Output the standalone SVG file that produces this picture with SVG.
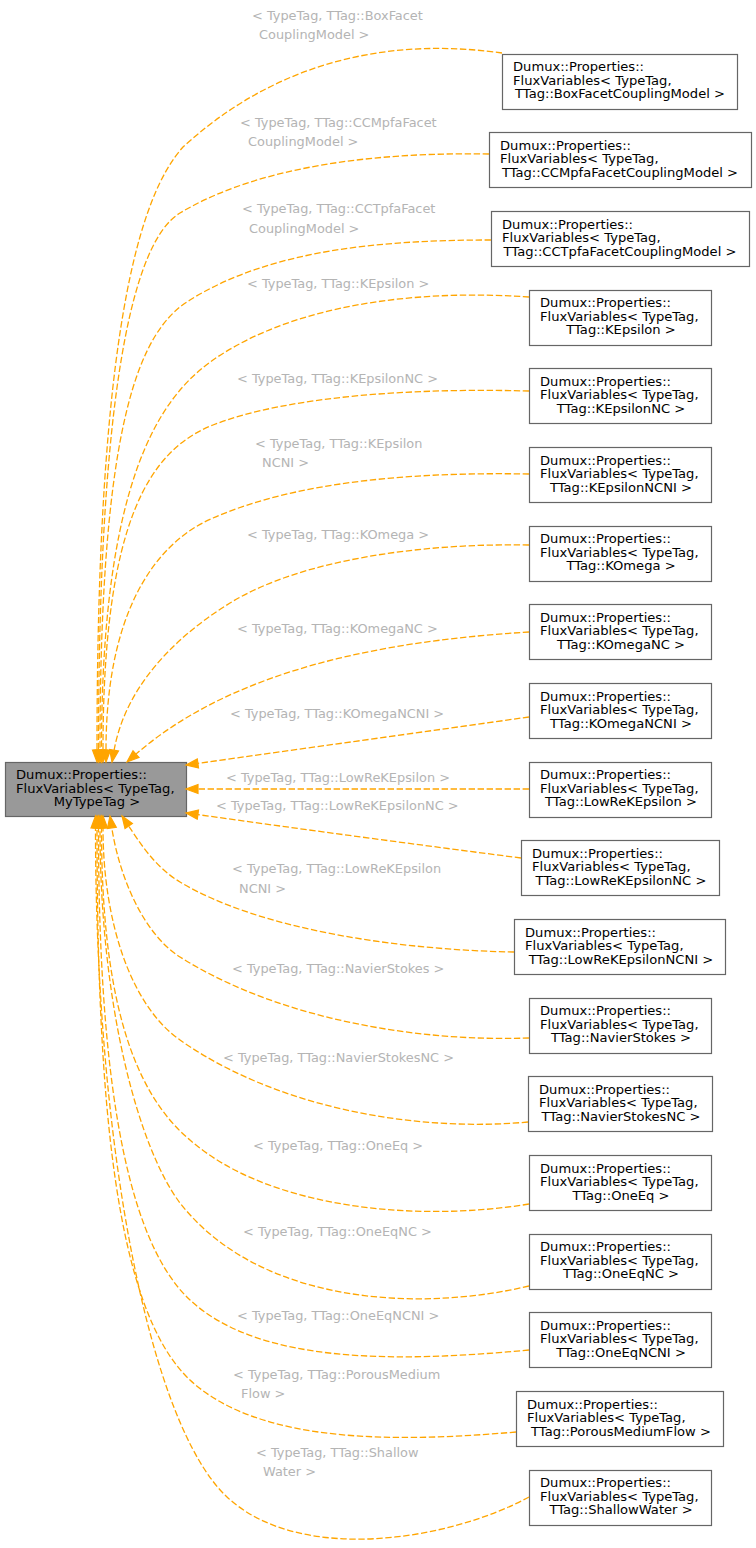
<svg xmlns="http://www.w3.org/2000/svg" width="756" height="1548" viewBox="0 0 756 1548">
<style>
text{font-family:"DejaVu Sans","Noto Sans",sans-serif;font-size:13.1px}
.n rect{fill:#ffffff;stroke:#666666;stroke-width:1.2}
.m rect{fill:#999999;stroke:#666666;stroke-width:1.2}
.n text,.m text{fill:#000000}
.c{text-anchor:middle}
.e path{fill:none;stroke:#ffa500;stroke-width:1.3;stroke-dasharray:6.4,2.6}
.e polygon{fill:#ffa500;stroke:#ffa500;stroke-width:1.2}
.e text{fill:#b4b4b4;font-size:12.9px}
</style>
<rect width="756" height="1548" fill="#ffffff"/>

<g id="node_main" class="m">
<rect x="5.5" y="762.5" width="181" height="54"/>
<text x="16" y="779.3">Dumux::Properties::</text>
<text x="16" y="792.8">FluxVariables&lt; TypeTag,</text>
<text class="c" x="97" y="806.3">MyTypeTag &gt;</text>
</g>

<g id="node_BoxFacetCouplingModel" class="n">
<rect x="502.5" y="54.5" width="235" height="55"/>
<text x="513" y="71.3">Dumux::Properties::</text>
<text x="513" y="84.8">FluxVariables&lt; TypeTag,</text>
<text class="c" x="620" y="98.3">TTag::BoxFacetCouplingModel &gt;</text>
</g>
<g id="node_CCMpfaFacetCouplingModel" class="n">
<rect x="489.5" y="132.5" width="262" height="55"/>
<text x="500" y="149.8">Dumux::Properties::</text>
<text x="500" y="163.3">FluxVariables&lt; TypeTag,</text>
<text class="c" x="620" y="176.8">TTag::CCMpfaFacetCouplingModel &gt;</text>
</g>
<g id="node_CCTpfaFacetCouplingModel" class="n">
<rect x="491.5" y="211.5" width="258" height="55"/>
<text x="502" y="228.8">Dumux::Properties::</text>
<text x="502" y="242.3">FluxVariables&lt; TypeTag,</text>
<text class="c" x="620" y="255.8">TTag::CCTpfaFacetCouplingModel &gt;</text>
</g>
<g id="node_KEpsilon" class="n">
<rect x="529.5" y="290.5" width="182" height="55"/>
<text x="540" y="307.3">Dumux::Properties::</text>
<text x="540" y="320.8">FluxVariables&lt; TypeTag,</text>
<text class="c" x="621" y="334.3">TTag::KEpsilon &gt;</text>
</g>
<g id="node_KEpsilonNC" class="n">
<rect x="529.5" y="368.5" width="182" height="55"/>
<text x="540" y="385.8">Dumux::Properties::</text>
<text x="540" y="399.3">FluxVariables&lt; TypeTag,</text>
<text class="c" x="621" y="412.8">TTag::KEpsilonNC &gt;</text>
</g>
<g id="node_KEpsilonNCNI" class="n">
<rect x="529.5" y="447.5" width="182" height="55"/>
<text x="540" y="464.8">Dumux::Properties::</text>
<text x="540" y="478.3">FluxVariables&lt; TypeTag,</text>
<text class="c" x="621" y="491.8">TTag::KEpsilonNCNI &gt;</text>
</g>
<g id="node_KOmega" class="n">
<rect x="529.5" y="526.5" width="182" height="55"/>
<text x="540" y="543.3">Dumux::Properties::</text>
<text x="540" y="556.8">FluxVariables&lt; TypeTag,</text>
<text class="c" x="621" y="570.3">TTag::KOmega &gt;</text>
</g>
<g id="node_KOmegaNC" class="n">
<rect x="529.5" y="604.5" width="182" height="55"/>
<text x="540" y="621.8">Dumux::Properties::</text>
<text x="540" y="635.3">FluxVariables&lt; TypeTag,</text>
<text class="c" x="621" y="648.8">TTag::KOmegaNC &gt;</text>
</g>
<g id="node_KOmegaNCNI" class="n">
<rect x="529.5" y="683.5" width="182" height="55"/>
<text x="540" y="700.8">Dumux::Properties::</text>
<text x="540" y="714.3">FluxVariables&lt; TypeTag,</text>
<text class="c" x="621" y="727.8">TTag::KOmegaNCNI &gt;</text>
</g>
<g id="node_LowReKEpsilon" class="n">
<rect x="529.5" y="762.5" width="182" height="55"/>
<text x="540" y="779.3">Dumux::Properties::</text>
<text x="540" y="792.8">FluxVariables&lt; TypeTag,</text>
<text class="c" x="621" y="806.3">TTag::LowReKEpsilon &gt;</text>
</g>
<g id="node_LowReKEpsilonNC" class="n">
<rect x="521.5" y="840.5" width="198" height="55"/>
<text x="532" y="857.8">Dumux::Properties::</text>
<text x="532" y="871.3">FluxVariables&lt; TypeTag,</text>
<text class="c" x="621" y="884.8">TTag::LowReKEpsilonNC &gt;</text>
</g>
<g id="node_LowReKEpsilonNCNI" class="n">
<rect x="514.5" y="919.5" width="211" height="55"/>
<text x="525" y="936.8">Dumux::Properties::</text>
<text x="525" y="950.3">FluxVariables&lt; TypeTag,</text>
<text class="c" x="621" y="963.8">TTag::LowReKEpsilonNCNI &gt;</text>
</g>
<g id="node_NavierStokes" class="n">
<rect x="529.5" y="998.5" width="182" height="55"/>
<text x="540" y="1015.3">Dumux::Properties::</text>
<text x="540" y="1028.8">FluxVariables&lt; TypeTag,</text>
<text class="c" x="621" y="1042.3">TTag::NavierStokes &gt;</text>
</g>
<g id="node_NavierStokesNC" class="n">
<rect x="528.5" y="1076.5" width="184" height="55"/>
<text x="539" y="1093.8">Dumux::Properties::</text>
<text x="539" y="1107.3">FluxVariables&lt; TypeTag,</text>
<text class="c" x="621" y="1120.8">TTag::NavierStokesNC &gt;</text>
</g>
<g id="node_OneEq" class="n">
<rect x="529.5" y="1155.5" width="182" height="55"/>
<text x="540" y="1172.8">Dumux::Properties::</text>
<text x="540" y="1186.3">FluxVariables&lt; TypeTag,</text>
<text class="c" x="621" y="1199.8">TTag::OneEq &gt;</text>
</g>
<g id="node_OneEqNC" class="n">
<rect x="529.5" y="1234.5" width="182" height="55"/>
<text x="540" y="1251.3">Dumux::Properties::</text>
<text x="540" y="1264.8">FluxVariables&lt; TypeTag,</text>
<text class="c" x="621" y="1278.3">TTag::OneEqNC &gt;</text>
</g>
<g id="node_OneEqNCNI" class="n">
<rect x="529.5" y="1312.5" width="182" height="55"/>
<text x="540" y="1329.8">Dumux::Properties::</text>
<text x="540" y="1343.3">FluxVariables&lt; TypeTag,</text>
<text class="c" x="621" y="1356.8">TTag::OneEqNCNI &gt;</text>
</g>
<g id="node_PorousMediumFlow" class="n">
<rect x="516.5" y="1391.5" width="207" height="55"/>
<text x="527" y="1408.8">Dumux::Properties::</text>
<text x="527" y="1422.3">FluxVariables&lt; TypeTag,</text>
<text class="c" x="621" y="1435.8">TTag::PorousMediumFlow &gt;</text>
</g>
<g id="node_ShallowWater" class="n">
<rect x="529.5" y="1470.5" width="182" height="55"/>
<text x="540" y="1487.3">Dumux::Properties::</text>
<text x="540" y="1500.8">FluxVariables&lt; TypeTag,</text>
<text class="c" x="621" y="1514.3">TTag::ShallowWater &gt;</text>
</g>

<g id="connectors" class="e">
<path d="M502,53 C430,43 300,40 183,147 C140,195 97,330 97,750"/>
<polygon points="92.5,750 97,762 101.5,750"/>
<text x="252" y="20">&lt; TypeTag, TTag::BoxFacet</text>
<text x="259" y="39">CouplingModel &gt;</text>

<path d="M489,154 C380,152 260,165 180,213 C135,240 98.5,380 98.5,750"/>
<polygon points="94,750 98.5,762 103,750"/>
<text x="240" y="127">&lt; TypeTag, TTag::CCMpfaFacet</text>
<text x="248" y="146">CouplingModel &gt;</text>

<path d="M491,240 C380,240 270,250 190,300 C140,330 100,420 100,750"/>
<polygon points="95.5,750 100,762 104.5,750"/>
<text x="242" y="213">&lt; TypeTag, TTag::CCTpfaFacet</text>
<text x="249" y="233">CouplingModel &gt;</text>

<path d="M529,297 C430,290 300,300 213,360 C160,397 101.5,480 101.5,750"/>
<polygon points="97,750 101.5,762 106,750"/>
<text x="247" y="288">&lt; TypeTag, TTag::KEpsilon &gt;</text>

<path d="M529,391 C420,388 290,395 213,425 C150,450 103,520 103,750"/>
<polygon points="98.5,750 103,762 107.5,750"/>
<text x="237" y="383">&lt; TypeTag, TTag::KEpsilonNC &gt;</text>

<path d="M529,474 C420,472 300,480 213,518 C150,545 106,620 106,750"/>
<polygon points="101.5,750 106,762 110.5,750"/>
<text x="255" y="448">&lt; TypeTag, TTag::KEpsilon</text>
<text x="262" y="467">NCNI &gt;</text>

<path d="M529,545 C420,543 300,560 230,603 C170,640 125,690 114.1,750.2"/>
<polygon points="118.5,751 112,762 109.7,749.4"/>
<text x="247" y="539">&lt; TypeTag, TTag::KOmega &gt;</text>

<path d="M529,632 C400,640 240,664 136,754.1"/>
<polygon points="139,757.5 127,762 133,750.7"/>
<text x="237" y="633">&lt; TypeTag, TTag::KOmegaNC &gt;</text>

<path d="M529,717 C430,731 300,749 197.9,763.4"/>
<polygon points="198.5,767.9 186,765 197.3,758.9"/>
<text x="230" y="718">&lt; TypeTag, TTag::KOmegaNCNI &gt;</text>

<path d="M529,789 L198,789"/>
<polygon points="198,784.5 186,789 198,793.5"/>
<text x="226" y="782">&lt; TypeTag, TTag::LowReKEpsilon &gt;</text>

<path d="M521,858 C420,845 300,829 197.9,814.6"/>
<polygon points="197.3,819.1 186,813 198.5,810.1"/>
<text x="216" y="810">&lt; TypeTag, TTag::LowReKEpsilonNC &gt;</text>

<path d="M514,952 C400,950 260,930 180,882 C155,867 140,843 128.7,826"/>
<polygon points="132.4,823.5 122,816 125,828.5"/>
<text x="232" y="873">&lt; TypeTag, TTag::LowReKEpsilon</text>
<text x="239" y="893">NCNI &gt;</text>

<path d="M529,1038 C420,1042 280,1020 180,957 C145,935 120,880 111.8,827.9"/>
<polygon points="116.3,827.2 110,816 107.4,828.6"/>
<text x="232" y="973">&lt; TypeTag, TTag::NavierStokes &gt;</text>

<path d="M528,1122 C420,1132 280,1110 180,1040 C130,1005 103,920 103,828"/>
<polygon points="98.5,828 103,816 107.5,828"/>
<text x="223" y="1062">&lt; TypeTag, TTag::NavierStokesNC &gt;</text>

<path d="M529,1204 C420,1222 270,1210 190,1140 C130,1090 101.5,990 101.5,828"/>
<polygon points="97,828 101.5,816 106,828"/>
<text x="253" y="1150">&lt; TypeTag, TTag::OneEq &gt;</text>

<path d="M529,1286 C420,1312 260,1305 180,1203 C140,1150 100,1010 100,828"/>
<polygon points="95.5,828 100,816 104.5,828"/>
<text x="243" y="1236">&lt; TypeTag, TTag::OneEqNC &gt;</text>

<path d="M529,1350 C400,1362 260,1365 190,1300 C120,1235 98.5,1050 98.5,828"/>
<polygon points="94,828 98.5,816 103,828"/>
<text x="237" y="1320">&lt; TypeTag, TTag::OneEqNCNI &gt;</text>

<path d="M516,1432 C400,1442 260,1445 190,1380 C115,1310 97,1100 97,828"/>
<polygon points="92.5,828 97,816 101.5,828"/>
<text x="233" y="1379">&lt; TypeTag, TTag::PorousMedium</text>
<text x="241" y="1398">Flow &gt;</text>

<path d="M529,1497 C450,1540 300,1565 227,1497 C150,1425 95.5,1150 95.5,828"/>
<polygon points="91,828 95.5,816 100,828"/>
<text x="256" y="1457">&lt; TypeTag, TTag::Shallow</text>
<text x="263" y="1476">Water &gt;</text>
</g>
</svg>
